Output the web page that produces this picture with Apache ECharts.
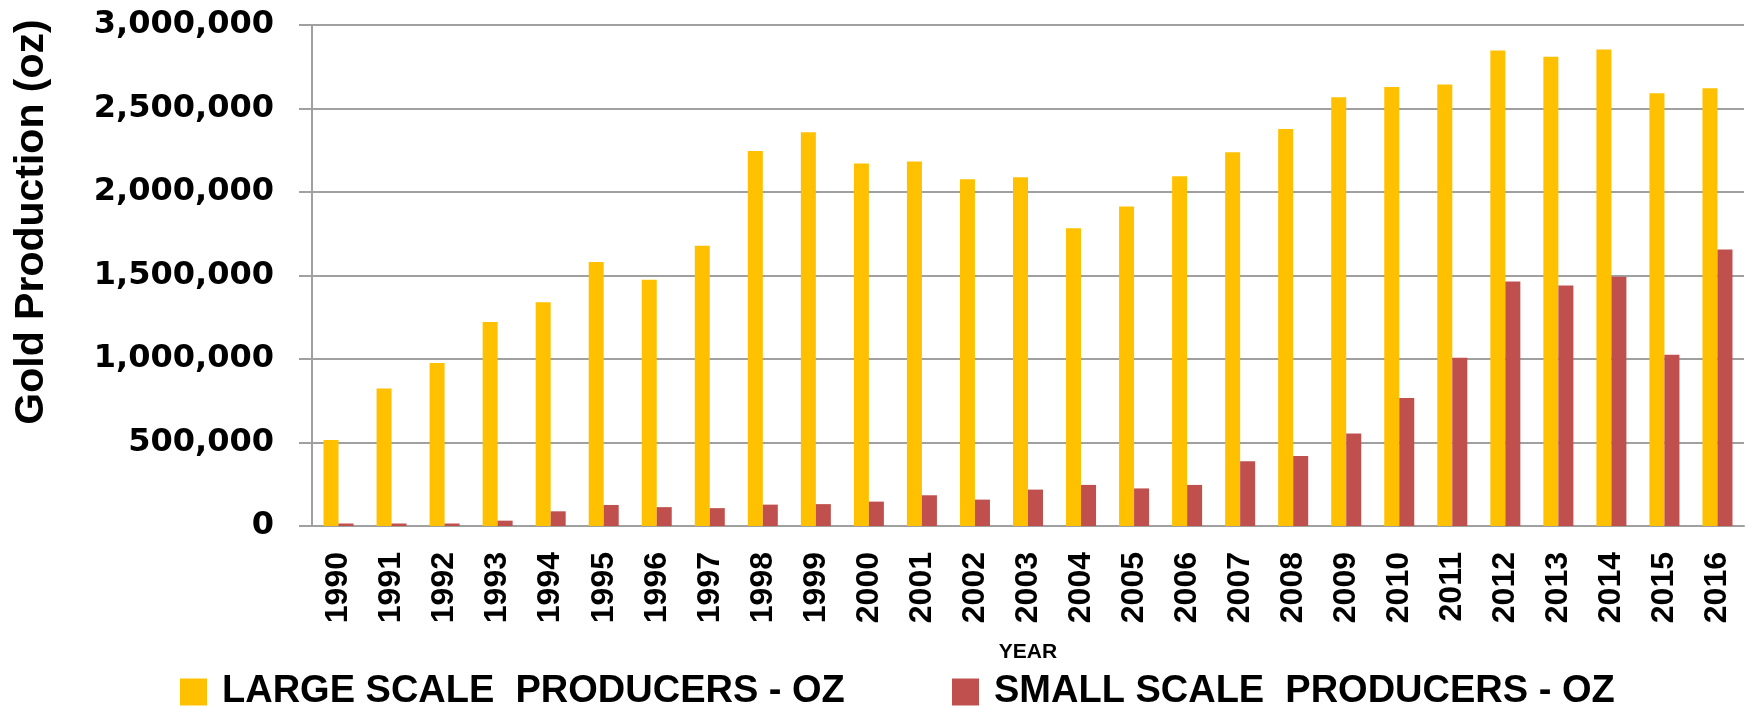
<!DOCTYPE html>
<html>
<head>
<meta charset="utf-8">
<script src="https://cdn.jsdelivr.net/npm/echarts@6/dist/echarts.min.js"></script>
<style>
    html, body { margin: 0; padding: 0; background: #fff; }
    #goldbar { width: 1748px; height: 708px; }
</style>
</head>
<body>
<div id="goldbar"></div>
<script>
    // years on the x axis
    var years = ['1990', '1991', '1992', '1993', '1994', '1995', '1996', '1997', '1998', '1999',
        '2000', '2001', '2002', '2003', '2004', '2005', '2006', '2007', '2008', '2009',
        '2010', '2011', '2012', '2013', '2014', '2015', '2016'];

    // ounces
    var largeScale = [515000, 824000, 976000, 1222000, 1340000, 1581000, 1474000, 1678000, 2245000, 2358000,
        2170000, 2183000, 2076000, 2089000, 1783000, 1913000, 2095000, 2238000, 2377000, 2568000,
        2628000, 2643000, 2848000, 2810000, 2853000, 2591000, 2621000];
    var smallScale = [15000, 15000, 15000, 32000, 88000, 126000, 113000, 107000, 128000, 131000,
        146000, 184000, 158000, 218000, 246000, 225000, 246000, 387000, 419000, 554000,
        766000, 1008000, 1464000, 1440000, 1492000, 1025000, 1656000];

    var largeName = 'LARGE SCALE  PRODUCERS - OZ';
    var smallName = 'SMALL SCALE  PRODUCERS - OZ';

    var chart = echarts.init(document.getElementById('goldbar'));

    var legendText = {
        fontFamily: 'Liberation Sans',
        fontWeight: 'bold',
        fontSize: 38,
        color: '#000',
        lineHeight: 40,
        padding: [0, 0, 0, 10]
    };

    var option = {
        animation: false,
        grid: { left: 312, right: 4, top: 25, bottom: 182, containLabel: false },
        legend: [
            { data: [largeName], left: 180, top: 672, padding: 0, itemWidth: 27, itemHeight: 27, icon: 'rect', textStyle: legendText },
            { data: [smallName], left: 952, top: 672, padding: 0, itemWidth: 27, itemHeight: 27, icon: 'rect', textStyle: legendText }
        ],
        graphic: [
            {
                type: 'text',
                x: 32,
                y: 222,
                rotation: Math.PI / 2,
                style: {
                    text: 'Gold Production (oz)',
                    fontFamily: 'Liberation Sans',
                    fontWeight: 'bold',
                    fontSize: 41,
                    fill: '#000',
                    align: 'center',
                    verticalAlign: 'middle'
                }
            }
        ],
        xAxis: {
            type: 'category',
            data: years,
            name: 'YEAR',
            nameLocation: 'middle',
            nameGap: 116,
            nameTextStyle: { fontFamily: 'Liberation Sans', fontWeight: 'bold', fontSize: 21, color: '#000' },
            axisLine: { lineStyle: { color: '#a0a0a0', width: 2 } },
            axisTick: { show: false },
            axisLabel: {
                rotate: 90,
                margin: 26,
                interval: 0,
                fontFamily: 'Liberation Sans',
                fontWeight: 'bold',
                fontSize: 32,
                color: '#000'
            }
        },
        yAxis: {
            type: 'value',
            min: 0,
            max: 3000000,
            interval: 500000,
            axisLine: { show: true, lineStyle: { color: '#a0a0a0', width: 2 } },
            axisTick: { show: true, length: 13, lineStyle: { color: '#a0a0a0', width: 2 } },
            splitLine: { lineStyle: { color: '#a0a0a0', width: 2 } },
            axisLabel: {
                margin: 38,
                fontFamily: 'DejaVu Sans',
                fontWeight: 'bold',
                fontSize: 32,
                color: '#000',
                formatter: function (v) { return v.toLocaleString('en-US'); }
            }
        },
        series: [
            { name: largeName, type: 'bar', data: largeScale, barWidth: 15, barGap: '0%', itemStyle: { color: '#FFC000' } },
            { name: smallName, type: 'bar', data: smallScale, barWidth: 15, barGap: '0%', itemStyle: { color: '#C0504D' } }
        ]
    };

    chart.setOption(option);
</script>
</body>
</html>
